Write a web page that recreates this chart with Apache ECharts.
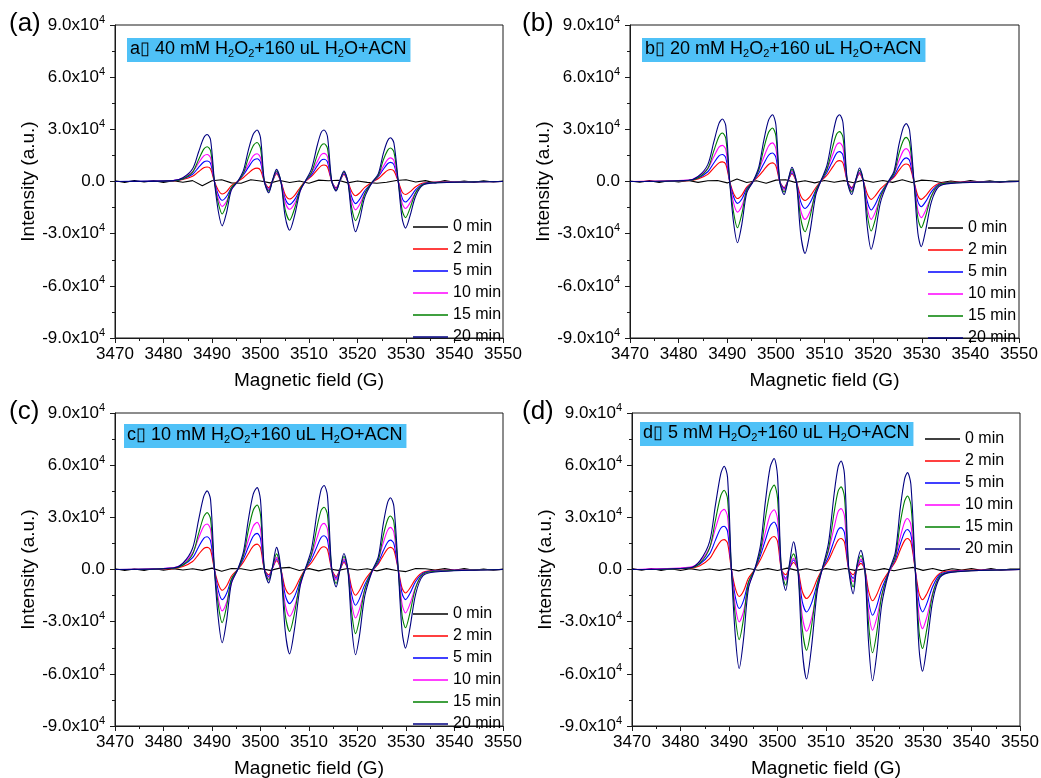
<!DOCTYPE html>
<html><head><meta charset="utf-8">
<script src="https://cdn.jsdelivr.net/npm/echarts@6/dist/echarts.min.js"></script>
<style>html,body{margin:0;padding:0;background:#fff}#c{width:1041px;height:778px}</style>
</head><body><div id="c"></div>
<script>
// Magnetic field grid (G) for the coloured spectra
const fieldX = [3470, 3482, 3484, 3486, 3487.2, 3488.3, 3489, 3489.7, 3490.5, 3491.3, 3492.1, 3493, 3494, 3495.3, 3496.5, 3497.5, 3498.5, 3499.3, 3500, 3500.8, 3501.7, 3502.5, 3503.3, 3504.2, 3505.1, 3506, 3507, 3508.2, 3509.2, 3510.5, 3511.7, 3512.5, 3513.1, 3513.8, 3514.7, 3515.6, 3516.4, 3517.2, 3518, 3518.8, 3519.6, 3520.4, 3521.5, 3523, 3524.3, 3525.3, 3526.2, 3526.8, 3527.5, 3528.4, 3529.2, 3529.9, 3530.8, 3532, 3533.5, 3536, 3550];
// Field grid for the 0 min (blank) spectra
const blankX = [3470,3472,3474,3476,3478,3480,3482,3484,3486,3488,3490,3492,3494,3496,3498,3500,3502,3504,3506,3508,3510,3512,3514,3516,3518,3520,3522,3524,3526,3528,3530,3532,3534,3536,3538,3540,3542,3544,3546,3548,3550];
const seriesNames = ['0 min','2 min','5 min','10 min','15 min','20 min'];
const xTicks = {min: 3470, max: 3550, step: 10};
const yTicks = {min: -9, max: 9, step: 3}; // units of 10^4
const panelLetters = ['a','b','c','d'];
const panelConc = ['40 mM','20 mM','10 mM','5 mM'];

// Intensities in units of 10^4 a.u.
// Panel (a) 40 mM
const a0 = [0.04,-0.05,0.06,-0.03,0.05,-0.06,0.04,-0.04,0.05,-0.25,0.04,0.1,-0.08,-0.1,0.1,0.03,-0.08,0.06,-0.06,0.03,-0.1,0.08,0.04,0.07,-0.08,0.03,-0.05,-0.1,-0.04,0.06,0.1,-0.03,0.05,-0.08,0.05,-0.04,0.03,-0.05,0.04,-0.03,0.02];
const a2 = [0, 0.03,0.11,0.3,0.56,0.79,0.83,0.73, 0, -0.5,-0.72,-0.58,-0.24, 0, 0.23,0.48,0.71,0.77,0.65, 0, -0.35,0.05,0.45, 0, -0.76,-1.01,-0.81,-0.33, 0, 0.29,0.67,0.9,0.95,0.84, 0, -0.35,0.05,0.4, 0, -0.57,-0.82,-0.67,-0.34,-0.04, 0.17,0.43,0.64,0.69,0.61, 0, -0.6,-0.75,-0.6,-0.3,-0.09,-0.03, 0];
const a5 = [0, 0.05,0.15,0.42,0.8,1.12,1.18,1.04, 0, -0.76,-1.08,-0.86,-0.36, 0, 0.39,0.81,1.21,1.31,1.11, 0, -0.45,0.05,0.5, 0, -0.99,-1.32,-1.06,-0.44, 0, 0.38,0.9,1.22,1.28,1.13, 0, -0.4,0.05,0.45, 0, -0.89,-1.27,-1.04,-0.53,-0.06, 0.28,0.69,1.02,1.1,0.97, 0, -0.94,-1.18,-0.94,-0.47,-0.14,-0.05, 0];
const a10 = [0, 0.06,0.2,0.56,1.05,1.47,1.55,1.36, 0, -1.0,-1.43,-1.14,-0.47, 0, 0.48,0.99,1.47,1.6,1.36, 0, -0.5,0.05,0.55, 0, -1.2,-1.6,-1.28,-0.53, 0, 0.49,1.13,1.54,1.62,1.43, 0, -0.45,0.05,0.5, 0, -1.14,-1.63,-1.34,-0.68,-0.08, 0.34,0.86,1.26,1.36,1.2, 0, -1.24,-1.55,-1.24,-0.62,-0.19,-0.06, 0];
const a15 = [0, 0.04,0.16,0.54,1.24,1.86,2.0,1.78, 0, -1.25,-1.87,-1.31,-0.36, 0, 0.49,1.37,2.06,2.24,1.9, 0, -0.55,0.05,0.6, 0, -1.63,-2.23,-1.58,-0.42, 0, 0.52,1.52,2.06,2.17,1.91, 0, -0.5,0.05,0.55, 0, -1.51,-2.25,-1.76,-0.7,-0.05, 0.35,1.22,1.79,1.93,1.7, 0, -1.64,-2.08,-1.56,-0.64,-0.17,-0.06, 0];
const a20 = [0, 0.05,0.22,0.73,1.67,2.51,2.7,2.4, 0, -1.71,-2.55,-1.79,-0.48, 0, 0.65,1.81,2.72,2.96,2.52, 0, -0.65,0.1,0.7, 0, -2.04,-2.8,-1.99,-0.53, 0, 0.71,2.07,2.81,2.96,2.6, 0, -0.55,0.1,0.6, 0, -1.94,-2.89,-2.25,-0.9,-0.06, 0.45,1.59,2.34,2.52,2.22, 0, -2.12,-2.68,-2.01,-0.83,-0.21,-0.08, 0];
// Panel (b) 20 mM
const b0 = [0.03,-0.04,0.05,-0.05,0.04,-0.03,0.06,-0.05,0.04,0.06,-0.08,0.15,-0.06,0.04,-0.1,0.08,0.1,-0.05,0.04,-0.08,0.06,-0.04,0.05,-0.07,0.08,-0.04,0.06,-0.05,0.1,-0.06,0.08,0.04,-0.06,0.03,-0.04,0.05,-0.03,0.04,-0.05,0.03,0.02];
const b2 = [0, 0.05,0.15,0.41,0.77,1.07,1.13,0.99, 0, -0.69,-0.98,-0.78,-0.32, 0, 0.32,0.66,0.98,1.07,0.91, 0, -0.35,0.05,0.45, 0, -0.82,-1.09,-0.87,-0.36, 0, 0.36,0.84,1.14,1.2,1.06, 0, -0.35,0.05,0.45, 0, -0.72,-1.03,-0.84,-0.43,-0.05, 0.25,0.64,0.94,1.01,0.89, 0, -0.82,-1.03,-0.82,-0.41,-0.12,-0.04, 0];
const b5 = [0, 0.06,0.2,0.56,1.05,1.47,1.55,1.36, 0, -0.88,-1.26,-1.01,-0.42, 0, 0.49,1.02,1.51,1.64,1.39, 0, -0.4,0.05,0.5, 0, -1.16,-1.55,-1.24,-0.51, 0, 0.52,1.2,1.63,1.72,1.51, 0, -0.4,0.05,0.5, 0, -1.15,-1.64,-1.34,-0.69,-0.08, 0.34,0.86,1.26,1.36,1.2, 0, -1.16,-1.45,-1.16,-0.58,-0.17,-0.06, 0];
const b10 = [0, 0.08,0.27,0.75,1.41,1.98,2.08,1.83, 0, -1.23,-1.76,-1.41,-0.58, 0, 0.67,1.38,2.04,2.22,1.89, 0, -0.5,0.05,0.6, 0, -1.64,-2.18,-1.74,-0.72, 0, 0.67,1.55,2.11,2.22,1.95, 0, -0.5,0.05,0.55, 0, -1.53,-2.18,-1.79,-0.92,-0.11, 0.47,1.19,1.76,1.89,1.66, 0, -1.66,-2.08,-1.66,-0.83,-0.25,-0.08, 0];
const b15 = [0, 0.06,0.22,0.75,1.73,2.59,2.79,2.48, 0, -1.78,-2.66,-1.86,-0.51, 0, 0.68,1.88,2.83,3.08,2.62, 0, -0.6,0.05,0.7, 0, -2.11,-2.89,-2.05,-0.55, 0, 0.69,2.01,2.73,2.87,2.53, 0, -0.6,0.05,0.65, 0, -1.91,-2.85,-2.22,-0.88,-0.06, 0.46,1.6,2.36,2.54,2.24, 0, -2.1,-2.66,-2.0,-0.82,-0.21,-0.08, 0];
const b20 = [0, 0.07,0.29,0.97,2.23,3.34,3.59,3.2, 0, -2.36,-3.52,-2.46,-0.67, 0, 0.84,2.34,3.53,3.84,3.26, 0, -0.75,0.05,0.82, 0, -3.01,-4.13,-2.93,-0.78, 0, 0.92,2.69,3.65,3.84,3.38, 0, -0.75,0.05,0.78, 0, -2.61,-3.9,-3.04,-1.21,-0.08, 0.6,2.1,3.1,3.33,2.93, 0, -2.96,-3.75,-2.81,-1.16,-0.3,-0.11, 0];
// Panel (c) 10 mM
const c0 = [0.04,-0.06,0.03,-0.05,0.06,-0.04,0.05,-0.03,0.04,-0.05,0.08,-0.1,0.06,0.04,-0.06,0.05,-0.05,0.08,0.12,-0.06,0.05,-0.08,0.04,-0.05,0.06,-0.03,0.04,-0.08,0.05,-0.06,-0.12,0.06,0.04,-0.03,0.05,-0.04,0.06,-0.05,0.03,-0.04,0.02];
const c2 = [0, 0.05,0.17,0.46,0.86,1.21,1.27,1.12, 0, -0.83,-1.19,-0.95,-0.39, 0, 0.44,0.91,1.34,1.46,1.24, 0, -0.3,0.1,0.5, 0, -1.07,-1.42,-1.14,-0.47, 0, 0.39,0.92,1.24,1.31,1.15, 0, -0.4,0,0.4, 0, -1.04,-1.48,-1.21,-0.62,-0.07, 0.32,0.8,1.18,1.27,1.12, 0, -1.08,-1.35,-1.08,-0.54,-0.16,-0.05, 0];
const c5 = [0, 0.08,0.24,0.68,1.28,1.79,1.88,1.65, 0, -1.21,-1.73,-1.38,-0.57, 0, 0.62,1.29,1.91,2.08,1.77, 0, -0.4,0.1,0.6, 0, -1.47,-1.96,-1.57,-0.65, 0, 0.58,1.36,1.84,1.94,1.71, 0, -0.5,0,0.5, 0, -1.44,-2.06,-1.69,-0.87,-0.1, 0.42,1.06,1.57,1.69,1.49, 0, -1.38,-1.73,-1.38,-0.69,-0.21,-0.07, 0];
const c10 = [0, 0.1,0.34,0.94,1.78,2.49,2.62,2.31, 0, -1.67,-2.38,-1.9,-0.79, 0, 0.81,1.68,2.49,2.71,2.3, 0, -0.5,0.1,0.7, 0, -2.02,-2.69,-2.15,-0.89, 0, 0.8,1.86,2.52,2.65,2.33, 0, -0.6,0,0.6, 0, -1.95,-2.79,-2.29,-1.17,-0.14, 0.61,1.52,2.25,2.42,2.13, 0, -2.0,-2.5,-2.0,-1.0,-0.3,-0.1, 0];
const c15 = [0, 0.07,0.26,0.88,2.03,3.04,3.27,2.91, 0, -2.05,-3.06,-2.14,-0.58, 0, 0.82,2.26,3.41,3.71,3.15, 0, -0.6,0.15,0.9, 0, -2.6,-3.56,-2.53,-0.68, 0, 0.86,2.51,3.4,3.58,3.15, 0, -0.8,0,0.75, 0, -2.47,-3.69,-2.88,-1.14,-0.07, 0.55,1.94,2.86,3.08,2.71, 0, -2.65,-3.35,-2.51,-1.04,-0.27,-0.1, 0];
const c20 = [0, 0.09,0.36,1.22,2.8,4.2,4.52,4.02, 0, -2.82,-4.21,-2.95,-0.8, 0, 1.04,2.87,4.33,4.71,4.0, 0, -0.77,0.2,1.27, 0, -3.54,-4.85,-3.44,-0.92, 0, 1.16,3.38,4.59,4.83,4.25, 0, -1.0,0,0.92, 0, -3.28,-4.9,-3.82,-1.52,-0.1, 0.74,2.6,3.84,4.13,3.63, 0, -3.57,-4.52,-3.39,-1.4,-0.36,-0.14, 0];
// Panel (d) 5 mM
const d0 = [0.05,-0.04,0.06,-0.05,0.04,-0.06,0.05,-0.04,0.03,-0.05,0.04,-0.08,0.06,-0.04,0.05,-0.06,0.08,-0.05,0.04,-0.07,0.05,-0.04,0.06,-0.05,0.04,-0.06,0.05,-0.07,0.04,0.12,-0.05,0.06,-0.08,0.04,-0.03,0.05,-0.04,0.06,-0.05,0.03,0.02];
const d2 = [0, 0.07,0.22,0.62,1.17,1.63,1.72,1.51, 0, -1.09,-1.55,-1.24,-0.51, 0, 0.57,1.18,1.75,1.9,1.62, 0, -0.3,0.1,0.4, 0, -1.25,-1.67,-1.34,-0.55, 0, 0.53,1.25,1.69,1.78,1.57, 0, -0.3,0.1,0.35, 0, -1.26,-1.8,-1.48,-0.76,-0.09, 0.45,1.12,1.66,1.78,1.57, 0, -1.39,-1.74,-1.39,-0.7,-0.21,-0.07, 0];
const d5 = [0, 0.1,0.32,0.9,1.69,2.37,2.49,2.19, 0, -1.57,-2.24,-1.79,-0.74, 0, 0.82,1.69,2.51,2.73,2.32, 0, -0.5,0.1,0.55, 0, -1.83,-2.44,-1.95,-0.81, 0, 0.72,1.69,2.29,2.41,2.12, 0, -0.5,0.1,0.5, 0, -1.84,-2.63,-2.16,-1.1,-0.13, 0.58,1.45,2.14,2.3,2.02, 0, -1.95,-2.44,-1.95,-0.98,-0.29,-0.1, 0];
const d10 = [0, 0.14,0.45,1.25,2.35,3.29,3.46,3.04, 0, -2.11,-3.01,-2.41,-0.99, 0, 1.03,2.13,3.16,3.44,2.92, 0, -0.6,0.2,0.65, 0, -2.66,-3.55,-2.84,-1.17, 0, 1.05,2.45,3.33,3.5,3.08, 0, -0.7,0.1,0.6, 0, -2.44,-3.49,-2.86,-1.47,-0.17, 0.73,1.85,2.72,2.93,2.58, 0, -2.72,-3.4,-2.72,-1.36,-0.41,-0.14, 0];
const d15 = [0, 0.09,0.36,1.23,2.83,4.24,4.56,4.06, 0, -2.7,-4.03,-2.82,-0.77, 0, 1.07,2.96,4.46,4.85,4.12, 0, -0.9,0.3,0.9, 0, -3.39,-4.64,-3.29,-0.88, 0, 1.14,3.33,4.51,4.75,4.18, 0, -1.0,0.2,0.8, 0, -3.21,-4.79,-3.74,-1.48,-0.1, 0.76,2.66,3.93,4.23,3.72, 0, -3.59,-4.54,-3.41,-1.41,-0.36,-0.14, 0];
const d20 = [0, 0.1,0.5,1.6,3.7,5.5,5.94,5.3, 0, -3.8,-5.69,-4.0,-1.1, 0, 1.4,3.9,5.9,6.38,5.4, 0, -1.2,0.4,1.6, 0, -4.6,-6.3,-4.5,-1.2, 0, 1.5,4.4,5.9,6.24,5.5, 0, -1.4,0.3,1.1, 0, -4.3,-6.4,-5.0,-2.0,-0.1, 1.0,3.5,5.2,5.57,4.9, 0, -4.6,-5.85,-4.4,-1.8,-0.45,-0.15, 0];

const panelData = [
  [a0,a2,a5,a10,a15,a20],
  [b0,b2,b5,b10,b15,b20],
  [c0,c2,c5,c10,c15,c20],
  [d0,d2,d5,d10,d15,d20]
];

// ---- layout / style (not data) ----
const colors = ['#000000','#ff0000','#0000ff','#ff00ff','#008000','#000080'];
const FONT = 'Arial, "Liberation Sans", sans-serif';
const grids = [
  {left:115, top:25, width:388, height:313},
  {left:630, top:25, width:389, height:313},
  {left:115, top:413, width:388, height:313},
  {left:632, top:413, width:388, height:313}
];
const tagPos = [[9,11],[522,11],[9,399],[522,399]];
const boxPos = [[127,37],[642,37],[124,423],[640,421]];
const legendPos = [[413,219],[928,220],[413,606],[925,431]];
// legend icon: a thin horizontal line filling the item width
const LINE_ICON = 'path://M0,0L0,0M0,6.3L35,6.3L35,7.7L0,7.7ZM35,14L35,14';

const axisColor = '#1a1a1a';
const xAxes = grids.map((g,i)=>({
  type:'value', gridIndex:i, min:xTicks.min, max:xTicks.max, interval:xTicks.step,
  name:'Magnetic field (G)', nameLocation:'middle', nameGap:33,
  nameTextStyle:{fontSize:19, color:'#000', fontFamily:FONT},
  axisLine:{show:true, onZero:false, lineStyle:{color:axisColor, width:1}},
  axisTick:{show:true, inside:false, length:5, lineStyle:{color:axisColor, width:1}},
  minorTick:{show:true, splitNumber:2, length:3, lineStyle:{color:axisColor, width:1}},
  splitLine:{show:false}, minorSplitLine:{show:false},
  axisLabel:{fontSize:17, color:'#000', fontFamily:FONT, margin:8, showMinLabel:true, showMaxLabel:true, hideOverlap:false,
    formatter: v => String(v)}
}));
const yAxes = grids.map((g,i)=>({
  type:'value', gridIndex:i, min:yTicks.min, max:yTicks.max, interval:yTicks.step,
  name:'Intensity (a.u.)', nameLocation:'middle', nameGap:74, nameRotate:90,
  nameTextStyle:{fontSize:19, color:'#000', fontFamily:FONT},
  axisLine:{show:true, onZero:false, lineStyle:{color:axisColor, width:1}},
  axisTick:{show:true, inside:false, length:5, lineStyle:{color:axisColor, width:1}},
  minorTick:{show:true, splitNumber:2, length:3, lineStyle:{color:axisColor, width:1}},
  splitLine:{show:false}, minorSplitLine:{show:false},
  axisLabel:{
    margin:10, showMinLabel:true, showMaxLabel:true, hideOverlap:false,
    formatter: v => v === 0 ? '{m|0.0}' : '{m|' + v.toFixed(1) + 'x10}{s|4}',
    rich:{
      m:{fontSize:17, color:'#000', fontFamily:FONT, lineHeight:22},
      s:{fontSize:11, color:'#000', fontFamily:FONT, lineHeight:11, verticalAlign:'top'}
    }
  }
}));

const titles = [];
grids.forEach((g,i)=>{
  titles.push({
    text:'(' + panelLetters[i] + ')', left:tagPos[i][0], top:tagPos[i][1], padding:0,
    textStyle:{fontSize:26, fontWeight:'normal', color:'#000', fontFamily:FONT}
  });
  titles.push({
    text:'{t|' + panelLetters[i] + '\u25AF ' + panelConc[i] + ' H}{s|2}{t|O}{s|2}{t|+160 uL H}{s|2}{t|O+ACN}',
    left:boxPos[i][0], top:boxPos[i][1], padding:[2,4,3,3], backgroundColor:'#4fc1f7',
    textStyle:{fontWeight:'normal', rich:{
      t:{fontSize:18, color:'#000', fontFamily:FONT, lineHeight:20},
      s:{fontSize:11, color:'#000', fontFamily:FONT, lineHeight:13, verticalAlign:'bottom'}
    }}
  });
});

const legends = grids.map((g,i)=>({
  data: seriesNames, orient:'vertical', left:legendPos[i][0], top:legendPos[i][1],
  padding:0, itemWidth:35, itemHeight:14, itemGap:6, selectedMode:false,
  icon: LINE_ICON,
  textStyle:{fontSize:16, color:'#000', fontFamily:FONT, lineHeight:14}
}));

const series = [];
panelData.forEach((arrs,p)=>{
  arrs.forEach((arr,k)=>{
    const xs = k === 0 ? blankX : fieldX;
    series.push({
      type:'line', name:seriesNames[k], xAxisIndex:p, yAxisIndex:p,
      data: xs.map((x,j)=>[x, arr[j]]),
      symbol:'none', showSymbol:false, smooth: k === 0 ? false : 0.3,
      lineStyle:{color:colors[k], width:1.1}, itemStyle:{color:colors[k]},
      emphasis:{disabled:true}, animation:false
    });
  });
});

const chart = echarts.init(document.getElementById('c'), null, {renderer:'canvas'});
chart.setOption({
  animation:false,
  backgroundColor:'#ffffff',
  title: titles,
  legend: legends,
  grid: grids.map(g=>Object.assign({show:true, borderColor:axisColor, borderWidth:1, backgroundColor:'transparent', containLabel:false, outerBoundsMode:'none'}, g)),
  xAxis: xAxes,
  yAxis: yAxes,
  series: series
});
</script>
</body></html>
